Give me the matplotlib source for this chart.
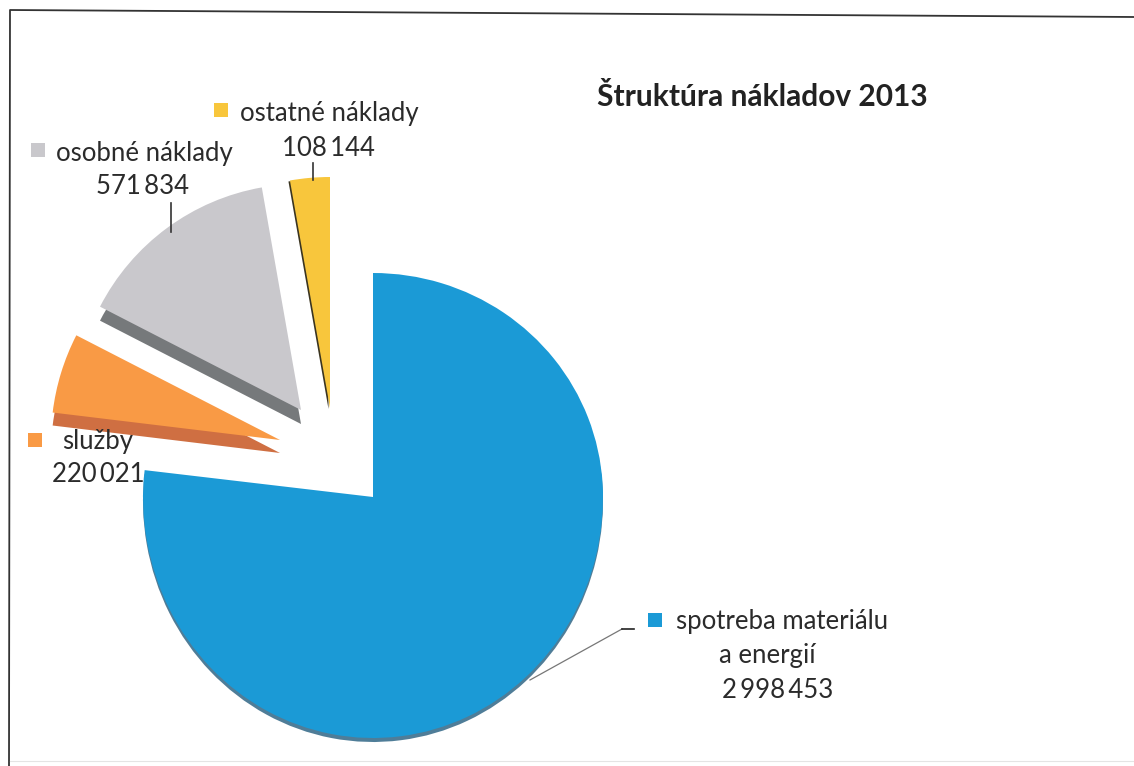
import matplotlib
matplotlib.use("Agg")
import matplotlib.pyplot as plt
from matplotlib.patches import PathPatch
from matplotlib.path import Path

# values from the labels, order clockwise from 12 o'clock
names = ["spotreba materiálu", "a energií", "služby", "osobné náklady", "ostatné náklady"]
values = [2998453, 220021, 571834, 108144]
value_labels = ["2\u2009998\u2009453", "220\u2009021", "571\u2009834", "108\u2009144"]
title = "Štruktúra nákladov 2013"

colors = ["#1b9ad6", "#f99a45", "#c9c8cc", "#f8c63c"]
side_colors = ["#4f7d98", "#cf6f42", "#76797b", "#3a3420"]

W, H = 1134, 766
CX, CY, R = 373, H - 497, 230
# how far each slice was pulled out, in px (x, y up)
pull = [(0, 0), (-93, 57), (-72, 87), (-43, 89)]
depth = [4, 13, 14, 0]
radii = [230, 229, 226, 231]

fig = plt.figure(figsize=(W / 100, H / 100), dpi=100)
ax = fig.add_axes([0, 0, 1, 1])

# darker copy underneath gives the 3d edge
under, _ = ax.pie(values, colors=side_colors, startangle=90, counterclock=False,
                  radius=R, center=(CX, CY), frame=True)
top, _ = ax.pie(values, colors=colors, startangle=90, counterclock=False,
                radius=R, center=(CX, CY), frame=True)
for i in range(1, len(values)):
    dx, dy = pull[i]
    under[i].set_center((CX + dx, CY + dy - depth[i]))
    under[i].set_radius(radii[i])
    top[i].set_center((CX + dx, CY + dy))
    top[i].set_radius(radii[i])
# yellow one only has a dark line down its left side
under[3].set_center((CX + pull[3][0] - 1.5, CY + pull[3][1] - 1))


def squash(wedge, color, shift=0):
    # big slice is not round in the scan: short above the corner, long below
    p = wedge.get_path()
    v = p.vertices.copy()
    up = v[:, 1] > CY
    v[up, 1] = CY + (v[up, 1] - CY) * 224 / 230
    v[~up, 1] = CY + (v[~up, 1] - CY) * 241 / 230
    v[:, 1] -= shift
    wedge.remove()
    ax.add_patch(PathPatch(Path(v, p.codes), fc=color, lw=0, zorder=1))


squash(under[0], side_colors[0], depth[0])
squash(top[0], colors[0])

ax.set_xlim(0, W)
ax.set_ylim(0, H)
ax.set_aspect("auto")
ax.axis("off")


def y(v):
    return H - v


txt = dict(family=["Lato", "DejaVu Sans"], color="#2b2b2b", ha="center", va="center",
           fontsize=18.5, zorder=5)

ax.text(597, y(97), title, family="Lato", fontsize=21.5, fontweight="bold",
        color="#222222", ha="left", va="center")

# labels: name, value, swatch
ax.text(329, y(114), names[4], **txt)
ax.text(328, y(148), value_labels[3], **txt)
ax.text(144, y(153), names[3], **txt)
ax.text(142, y(187), value_labels[2], **txt)
ax.text(98, y(442), names[2], **txt)
ax.text(98, y(475), value_labels[1], **txt)
ax.text(782, y(622), names[0], **txt)
ax.text(767, y(655), names[1], **txt)
ax.text(778, y(690), value_labels[0], **txt)

swatches = [(648, 613, 0), (214, 103, 3), (31, 143, 2), (28, 433, 1)]
for sx, sy, c in swatches:
    ax.fill([sx, sx + 14, sx + 14, sx], [y(sy), y(sy), y(sy + 14), y(sy + 14)],
            color=colors[c], lw=0)

# leader lines
ax.plot([530, 622], [y(680), y(629)], color="#777777", lw=0.9)
ax.plot([622, 634], [y(629), y(629)], color="#222222", lw=1.2)
ax.plot([171, 171], [y(203), y(232)], color="#333333", lw=1.2)
ax.plot([313, 313], [y(163), y(180)], color="#333333", lw=1.2)

# scanned frame
ax.plot([9, 10, 1134], [y(766), y(10), y(17)], color="#333333", lw=1.3)
ax.plot([10, 1134], [y(761), y(761)], color="#e4e4e4", lw=0.8)

fig.savefig("out.png", dpi=100)
